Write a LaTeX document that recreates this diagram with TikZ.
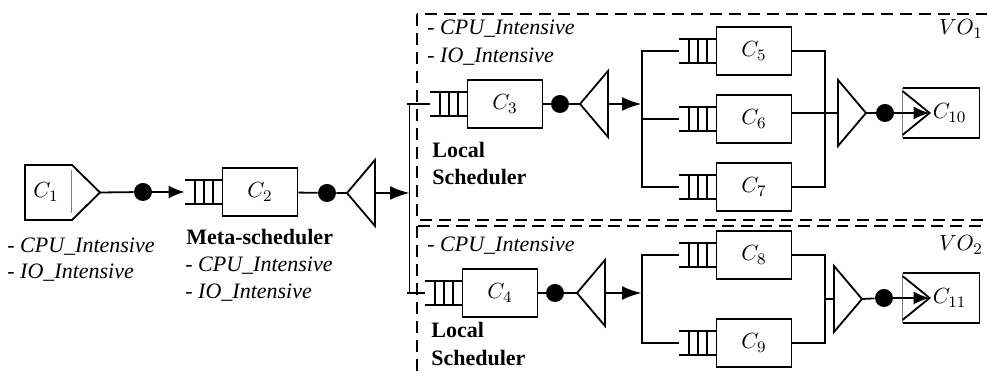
\documentclass[tikz,border=0pt]{standalone}
\usepackage{fontspec}
\setmainfont{Liberation Serif}
\usepackage{tikz}
\usetikzlibrary{calc,arrows.meta}
\tikzset{
	comp/.style={draw, line width=0.9pt, minimum width=37.5pt, minimum height=24pt, inner sep=0pt},
	dot/.style={circle, fill, inner sep=0pt, minimum size=9pt},
	wire/.style={line width=0.9pt},
	flow/.style={line width=0.9pt, -{Latex[length=8pt,width=6.5pt]}},
	fat/.style={line width=1.4pt, -{Latex[length=10pt,width=7pt]}},
	vo/.style={line width=0.9pt, dash pattern=on 6pt off 3.5pt},
	tag/.style={anchor=base west, inner sep=0pt, font=\fontsize{11}{13}\selectfont\itshape},
	hd/.style={anchor=base west, inner sep=0pt, font=\fontsize{11}{13}\selectfont\bfseries},
}
% three-slot queue in front of box #1, input point (#1q)
\newcommand{\queue}[1]{
	\draw[wire] ($(#1.west)+(-37,-12)$) -- ($(#1.west)+(0,-12)$);
	\draw[wire] ($(#1.west)+(-37,12)$) -- ($(#1.west)+(0,12)$);
	\foreach \d in {9,18,27} {
		\draw[wire] ($(#1.west)+(-\d,-12)$) -- ($(#1.west)+(-\d,12)$);
	}
	\coordinate (#1q) at ($(#1.west)+(-37,0)$);
}
% triangle pointing left, tip at #2
\newcommand{\splitter}[2]{
	\coordinate (#1) at (#2);
	\draw[wire] (#1) -- ($(#1)+(28,-33)$) -- ($(#1)+(28,33)$) -- cycle;
	\coordinate (#1b) at ($(#1)+(28,0)$);
}
% triangle pointing right, base at #2
\newcommand{\merger}[2]{
	\coordinate (#1) at (#2);
	\draw[wire] ($(#1)+(0,-33)$) -- ($(#1)+(28,0)$) -- ($(#1)+(0,33)$) -- cycle;
	\coordinate (#1t) at ($(#1)+(28,0)$);
}
% end box with an inlet
\newcommand{\sink}[3]{
	\node[comp, draw=none] (#1) at (#2) {};
	\draw[wire] (#1.north west) -- (#1.north east) -- (#1.south east) -- (#1.south west);
	\draw[gray, very thin] (#1.north west) -- (#1.south west);
	\draw[wire] ($(#1.north west)+(0,3)$) -- ($(#1.west)+(27,0)$) -- ($(#1.south west)+(0,-3)$);
	\coordinate (#1in) at ($(#1.west)+(27,0)$);
	\node (#1l) at ($(#1.west)+(47,0)$) {$#3$};
}

\begin{document}
\fontsize{11}{13}\selectfont
\begin{tikzpicture}[x=0.5pt, y=-0.5pt]
	\useasboundingbox (0,0) rectangle (987,378);
	\clip (0,0) rectangle (987,378);
	
	% source
	\draw[wire] (72,165) -- (25,165) -- (25,220) -- (72,220) -- (100,192.5) -- cycle;
	\draw[gray, very thin] (71,170) -- (71,213);
	\node (c1) at (46,192) {$C_1$};
	\coordinate (c1t) at (100,192.5);
	\node[dot] (d1) at (143,192) {};
	\node[tag] (c1a) at (7,253) {- CPU\_Intensive};
	\node[tag] (c1b) at (7,279) {- IO\_Intensive};
	
	% meta-scheduler
	\node[comp] (c2) at (260,192) {$C_2$};
	\queue{c2}
	\node[dot] (d2) at (327,193) {};
	\splitter{s2}{347,193}
	\draw[wire] (c1t) -- (d1);
	\draw[flow] (d1) -- (c2q);
	\draw[wire] (c2) -- (d2) -- (s2);
	\node[hd] (ms) at (186,245) {Meta-scheduler};
	\node[tag] (c2a) at (185,272) {- CPU\_Intensive};
	\node[tag] (c2b) at (185,299) {- IO\_Intensive};
	
	% virtual organisations
	\draw[vo] (417,14) rectangle (1000,220);
	\draw[vo] (417,226) rectangle (1000,400);
	\node (vo1) at (961,29) {$VO_1$};
	\node (vo2) at (961,245) {$VO_2$};
	
	% VO1
	\node[comp] (c3) at (505,104) {$C_3$};
	\queue{c3}
	\node[dot] (d3) at (560,104) {};
	\splitter{s3}{580,104}
	\draw[wire] (c3) -- (d3) -- (s3);
	\coordinate (j3) at (642,104);
	\draw[fat] (s3b) -- (j3);
	\node[comp] (c5) at (754,51) {$C_5$};
	\node[comp] (c6) at (754,119) {$C_6$};
	\node[comp] (c7) at (754,187) {$C_7$};
	\queue{c5}
	\queue{c6}
	\queue{c7}
	\draw[wire] (c5q) -| (j3) |- (c7q);
	\draw[wire] (j3) |- (c6q);
	\merger{m1}{838,113}
	\coordinate (k1) at (825,113);
	\draw[wire] (c5) -| (k1) |- (c7);
	\draw[wire] (c6.east |- m1) -- (m1);
	\node[dot] (d5) at (885,113) {};
	\sink{c10}{941,113}{C_{10}}
	\draw[wire] (m1t) -- (d5);
	\draw[flow] (d5) -- (c10in);
	\node[tag] (v1a) at (427,35) {- CPU\_Intensive};
	\node[tag] (v1b) at (427,63) {- IO\_Intensive};
	\node[hd] (ls1a) at (432,158) {Local};
	\node[hd] (ls1b) at (432,185) {Scheduler};
	
	% VO2
	\node[comp] (c4) at (500,293) {$C_4$};
	\queue{c4}
	\node[dot] (d4) at (555,293) {};
	\splitter{s4}{577,293}
	\draw[wire] (c4) -- (d4) -- (s4);
	\coordinate (j4) at (642,293);
	\draw[fat] (s4b) -- (j4);
	\node[comp] (c8) at (754,255) {$C_8$};
	\node[comp] (c9) at (754,343) {$C_9$};
	\queue{c8}
	\queue{c9}
	\draw[wire] (c8q) -| (j4) |- (c9q);
	\merger{m2}{834,299}
	\coordinate (k2) at (825,299);
	\draw[wire] (c8) -| (k2) |- (c9);
	\draw[wire] (k2) -- (m2);
	\node[dot] (d6) at (884,298) {};
	\sink{c11}{941,298}{C_{11}}
	\draw[wire] (m2t) -- (d6);
	\draw[flow] (d6) -- (c11in);
	\node[tag] (v2a) at (427,252) {- CPU\_Intensive};
	\node[hd] (ls2a) at (431,338) {Local};
	\node[hd] (ls2b) at (431,366) {Scheduler};
	
	% dispatch from the meta-scheduler
	\coordinate (bus) at (410,193);
	\coordinate (bt) at (bus |- c3q);
	\coordinate (bb) at (bus |- c4q);
	\draw[fat] (s2b) -- (bus);
	\draw[double, double distance=0.5pt, line width=0.4pt] (bt) -- (bb);
	\draw[wire] ($(bt)+(-3,0)$) -- (c3q);
	\draw[wire] ($(bb)+(-3,0)$) -- (c4q);
\end{tikzpicture}
\end{document}
